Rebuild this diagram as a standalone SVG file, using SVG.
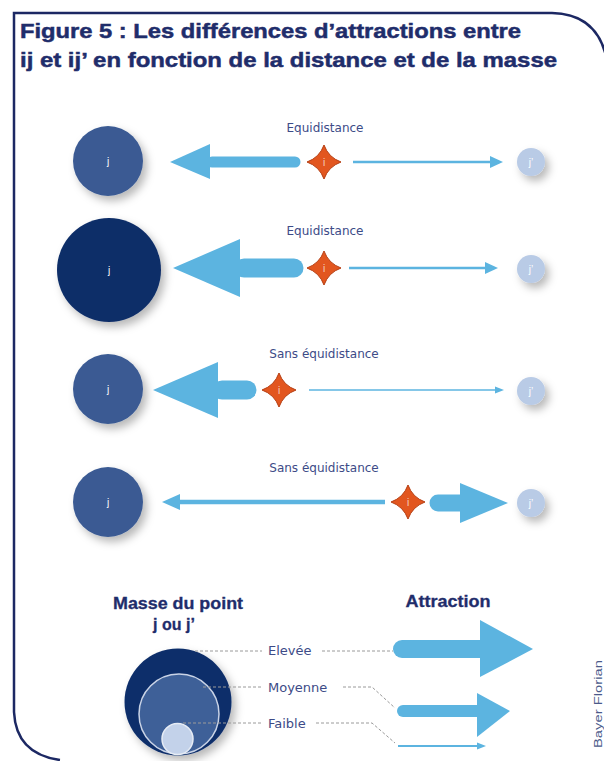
<svg xmlns="http://www.w3.org/2000/svg" width="604" height="761" viewBox="0 0 604 761">
<defs>
  <filter id="sh" x="-40%" y="-40%" width="190%" height="190%">
    <feDropShadow dx="4" dy="5" stdDeviation="4.5" flood-color="#000" flood-opacity="0.28"/>
  </filter>
  <path id="star" d="M0,-17 Q4.5,-4.5 17,0 Q4.5,4.5 0,17 Q-4.5,4.5 -17,0 Q-4.5,-4.5 0,-17 Z"/>
</defs>
<style>
  .title{font-family:"Liberation Sans",Arial,sans-serif;font-weight:bold;font-size:21px;fill:#1f2d6b;stroke:#1f2d6b;stroke-width:0.5}
  .head{font-family:"Liberation Sans",Arial,sans-serif;font-weight:bold;font-size:16px;fill:#1f2d6b;text-anchor:middle;stroke:#1f2d6b;stroke-width:0.3}
  .lbl{font-family:"DejaVu Sans",Verdana,sans-serif;font-size:12px;fill:#3d4b87;text-anchor:middle}
  .leg{font-family:"DejaVu Sans",Verdana,sans-serif;font-size:13px;fill:#3d4b87}
  .in{font-family:"Liberation Sans",Arial,sans-serif;font-size:10px;fill:#ffffff;text-anchor:middle}
  .jp{fill:#b9cbe6}
  .jm{fill:#3a5a93}
  .jd{fill:#0f2d68}
  .st{fill:#e2561f;stroke:#b53e12;stroke-width:1}
  .arr{fill:#5cb4e0}
  .shaft{stroke:#5cb4e0;stroke-linecap:round;fill:none}
  .thin{stroke:#5cb4e0;fill:none}
  .dash{stroke:#9a9a9a;stroke-width:1;stroke-dasharray:3 2;fill:none}
  .frame{stroke:#1c2863;stroke-width:2.5;fill:none}
</style>
<rect width="604" height="761" fill="#ffffff"/>
<path class="frame" d="M60,760 Q16,754 14,712 V13 H552 Q596,14 606,56"/>
<text class="title" x="20" y="38" textLength="501" lengthAdjust="spacingAndGlyphs">Figure 5 : Les différences d’attractions entre</text>
<text class="title" x="20" y="67" textLength="537" lengthAdjust="spacingAndGlyphs">ij et ij’ en fonction de la distance et de la masse</text>

<g id="labels">
  <text class="lbl" x="325" y="132">Equidistance</text>
  <text class="lbl" x="325" y="235">Equidistance</text>
  <text class="lbl" x="324" y="358">Sans équidistance</text>
  <text class="lbl" x="324" y="472">Sans équidistance</text>
</g>

<g id="connectors">
  <!-- row 1 -->
  <line class="shaft" x1="295" y1="162" x2="212" y2="162" stroke-width="11"/>
  <polygon class="arr" points="170,162 210,144 210,179"/>
  <line class="thin" x1="353" y1="162" x2="492" y2="162" stroke-width="2.5"/>
  <polygon class="arr" points="503,162 490,156 490,168"/>
  <!-- row 2 -->
  <line class="shaft" x1="294" y1="268" x2="244" y2="268" stroke-width="19"/>
  <polygon class="arr" points="173,268 240,239 240,297"/>
  <line class="thin" x1="349" y1="268" x2="487" y2="268" stroke-width="2.5"/>
  <polygon class="arr" points="498,268 485,262 485,274"/>
  <!-- row 3 -->
  <line class="shaft" x1="247" y1="390" x2="222" y2="390" stroke-width="19"/>
  <polygon class="arr" points="153,390 218,362 218,418"/>
  <line class="thin" x1="309" y1="390" x2="496" y2="390" stroke-width="1.3"/>
  <polygon class="arr" points="504,390 495,386.5 495,393.5"/>
  <!-- row 4 -->
  <line class="thin" x1="385" y1="502" x2="178" y2="502" stroke-width="4.5"/>
  <polygon class="arr" points="162,502 180,494 180,510"/>
  <line class="shaft" x1="438" y1="503" x2="463" y2="503" stroke-width="17"/>
  <polygon class="arr" points="508,503 460,483 460,523"/>
</g>

<g id="row1">
  <g id="j1"><circle class="jm" cx="108" cy="161" r="35" filter="url(#sh)"/><text class="in" x="108" y="165">j</text></g>
  <g id="i1"><use href="#star" class="st" x="324" y="162"/><text class="in" x="324" y="166" fill-opacity="0.7">i</text></g>
  <g id="jp1"><circle class="jp" cx="531" cy="162" r="14" filter="url(#sh)"/><text class="in" x="531" y="166">j’</text></g>
</g>
<g id="row2">
  <g id="j2"><circle class="jd" cx="109" cy="270" r="52" filter="url(#sh)"/><text class="in" x="109" y="274">j</text></g>
  <g id="i2"><use href="#star" class="st" x="324" y="268"/><text class="in" x="324" y="272" fill-opacity="0.7">i</text></g>
  <g id="jp2"><circle class="jp" cx="531" cy="269" r="14" filter="url(#sh)"/><text class="in" x="531" y="273">j’</text></g>
</g>
<g id="row3">
  <g id="j3"><circle class="jm" cx="108" cy="389" r="35" filter="url(#sh)"/><text class="in" x="108" y="393">j</text></g>
  <g id="i3"><use href="#star" class="st" x="279" y="390"/><text class="in" x="279" y="394" fill-opacity="0.7">i</text></g>
  <g id="jp3"><circle class="jp" cx="531" cy="391" r="14" filter="url(#sh)"/><text class="in" x="531" y="395">j’</text></g>
</g>
<g id="row4">
  <g id="j4"><circle class="jm" cx="108" cy="502" r="35" filter="url(#sh)"/><text class="in" x="108" y="506">j</text></g>
  <g id="i4"><use href="#star" class="st" x="408" y="502"/><text class="in" x="408" y="506" fill-opacity="0.7">i</text></g>
  <g id="jp4"><circle class="jp" cx="531" cy="503" r="14" filter="url(#sh)"/><text class="in" x="531" y="507">j’</text></g>
</g>

<g id="legend">
  <text class="head" x="178" y="609" textLength="130" lengthAdjust="spacingAndGlyphs">Masse du point</text>
  <text class="head" x="174" y="630">j ou j’</text>
  <text class="head" x="448" y="607" textLength="85" lengthAdjust="spacingAndGlyphs">Attraction</text>
  <g id="mass-circles">
    <circle cx="178" cy="702" r="53.5" fill="#0f2f6a" filter="url(#sh)"/>
    <circle cx="179" cy="714" r="40" fill="#3e6098" stroke="#c9d3e6" stroke-width="1.5"/>
    <circle cx="177.5" cy="739" r="15.5" fill="#c3d2ea" stroke="#e6ecf5" stroke-width="1.5"/>
  </g>
  <g id="legend-lines">
    <polyline class="dash" points="195,651 262,651"/>
    <polyline class="dash" points="322,651 393,651"/>
    <polyline class="dash" points="203,687 262,687"/>
    <polyline class="dash" points="343,687 372,687 395,708"/>
    <polyline class="dash" points="183,723 262,723"/>
    <polyline class="dash" points="316,723 372,723 395,743"/>
  </g>
  <text class="leg" x="268" y="655">Elevée</text>
  <text class="leg" x="268" y="692">Moyenne</text>
  <text class="leg" x="268" y="728">Faible</text>
  <g id="legend-arrows">
    <line class="shaft" x1="402" y1="649" x2="482" y2="649" stroke-width="18"/>
    <polygon class="arr" points="533,649 480,620 480,677"/>
    <line class="shaft" x1="403" y1="711" x2="479" y2="711" stroke-width="12"/>
    <polygon class="arr" points="510,711 477,693 477,737"/>
    <line class="thin" x1="398" y1="746" x2="478" y2="746" stroke-width="2"/>
    <polygon class="arr" points="486,746 477,742.5 477,749.5"/>
  </g>
  <text transform="translate(598,704) rotate(-90)" x="0" y="4" text-anchor="middle" font-family="Liberation Sans, Arial, sans-serif" font-size="11" fill="#4a5a8a" textLength="88" lengthAdjust="spacingAndGlyphs">Bayer Florian</text>
</g>
</svg>
